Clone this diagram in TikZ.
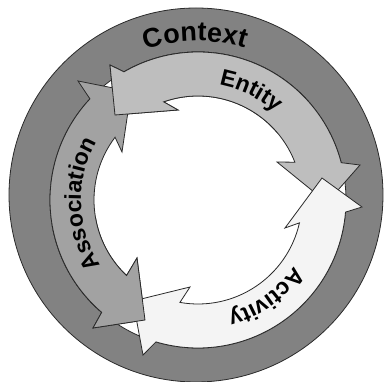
\documentclass[tikz,border=0pt]{standalone}
\usepackage{fontspec}
\setmainfont{Liberation Sans}
\usepackage{tikz}
\usetikzlibrary{decorations.text}
\definecolor{RingGray}{HTML}{828282}
\definecolor{AssocGray}{HTML}{A2A2A2}
\definecolor{EntityGray}{HTML}{BEBEBE}
\definecolor{ActivityWhite}{HTML}{F4F4F4}
\definecolor{EdgeDark}{HTML}{2A2A2A}
\newcommand{\ctxfont}{\bfseries\fontsize{27}{30}\selectfont}
\newcommand{\bandfont}{\bfseries\fontsize{23}{26}\selectfont}
% arrow outlines, polar about the centre of the band
\newcommand{\entityshape}{(120:148) -- (-88,135) -- (-83,85) -- (-20,90) -- (109.3:104)
  arc[start angle=109.3, end angle=21.3, radius=104] -- (79,38) -- (129,-2.6) -- (162,35)
  -- (14.6:148) arc[start angle=14.6, end angle=120, radius=148] -- cycle}
\newcommand{\assocshape}{(136.9:148) -- (-120,119) -- (-67,108.5) -- (-76,48) -- (142.9:104)
  arc[start angle=142.9, end angle=226.6, radius=104] -- (-61,-58) -- (-53,-120) -- (-105,-128)
  -- (229.4:148) arc[start angle=229.4, end angle=136.9, radius=148] -- cycle}
\newcommand{\activityshape}{(253.5:148) -- (-55,-155) -- (-65,-101) -- (-8,-87) -- (260:104)
  arc[start angle=260, end angle=347.3, radius=104] -- (87,-28) -- (124,22) -- (164,-7)
  -- (355.3:148) arc[start angle=355.3, end angle=253.5, radius=148] -- cycle}

\begin{document}
\begin{tikzpicture}[
  x=1pt,y=1pt,
  ringline/.style={draw=EdgeDark,line width=0.8pt},
  arrowbox/.style={draw=EdgeDark,line width=0.8pt,line join=miter},
  labeltext/.style={decorate,decoration={text along path,text align=center}}
]
  \useasboundingbox (-198,-182) rectangle (186,200);

  % context ring
  \draw[ringline,fill=RingGray] (-2,5) circle[radius=187];
  \draw[ringline,fill=white] (0,0) circle[radius=148];

  % the three arrows
  \draw[arrowbox,fill=EntityGray] \entityshape;
  \draw[arrowbox,fill=AssocGray] \assocshape;
  \draw[arrowbox,fill=ActivityWhite] \activityshape;

  % heads that lie on top of the next arrow's tail
  \begin{scope}
    \clip (0,0) -- (40:200) arc[start angle=40, end angle=180, radius=200] -- cycle;
    \draw[arrowbox,fill=EntityGray] \entityshape;
  \end{scope}
  \begin{scope}
    \clip (0,0) -- (190:200) arc[start angle=190, end angle=300, radius=200] -- cycle;
    \draw[arrowbox,fill=AssocGray] \assocshape;
  \end{scope}

  % labels
  \path[labeltext,decoration={text={|\ctxfont|Context}}]
    (126:159) arc[start angle=126, end angle=56, radius=159];
  \path[labeltext,decoration={text={|\bandfont|Entity}}]
    (94:117) arc[start angle=94, end angle=34, radius=117];
  \path[labeltext,decoration={text={|\bandfont|Association}}]
    (227:117) arc[start angle=227, end angle=137, radius=117];
  \path[labeltext,decoration={text={|\bandfont|Activity}}]
    (-15:117) arc[start angle=-15, end angle=-95, radius=117];
\end{tikzpicture}
\end{document}
